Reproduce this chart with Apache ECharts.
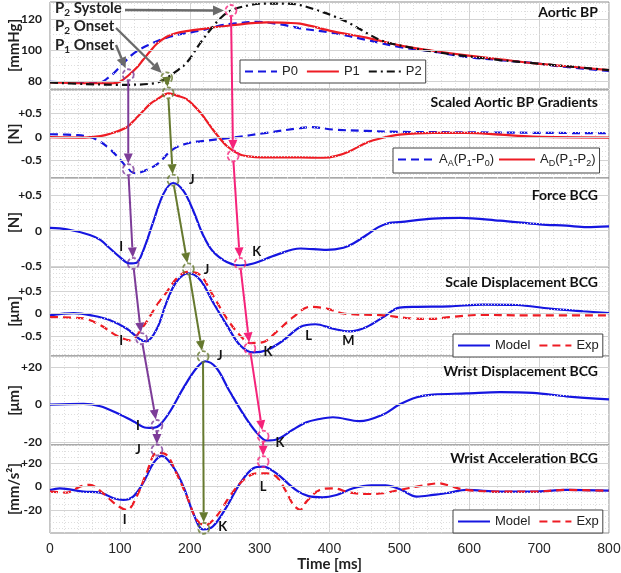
<!DOCTYPE html>
<html>
<head>
<meta charset="utf-8">
<title>Aortic BP and BCG</title>
<script src="https://cdn.jsdelivr.net/npm/echarts@6/dist/echarts.min.js"></script>
<style>
html, body { margin: 0; padding: 0; background: #fff; }
#main { width: 621px; height: 573px; }
</style>
</head>
<body>
<div id="main"></div>
<script>
// ---- data: [time ms, value] ----
var aorticP0 = [[0,79.5],[40,79],[70,79],[86,83],[100,89],[119,97.5],[140,103],[167,108],[190,110.5],[215,112.5],[240,115.5],[262,117],[296,118.2],[330,116.5],[358,114],[405,111],[453,106.5],[500,102],[548,99],[596,95.5],[644,93.5],[691,91.6],[739,89],[800,86.5]];
var aorticP1 = [[0,79],[50,78.5],[90,78.5],[100,79.5],[112,83.5],[125,89],[133,93.5],[143,99],[153,104],[167,108.5],[181,111],[200,112.5],[224,114],[260,116],[310,117.8],[340,117.5],[358,117],[405,112],[453,108],[500,103],[548,99.5],[596,96.5],[644,94],[691,91.5],[739,89.5],[800,87]];
var aorticP2 = [[0,79],[50,78],[100,77.5],[150,78.5],[167,82],[180,86],[196,92],[215,104.5],[233,115],[245,121],[259,125.5],[286,129],[310,130],[340,130],[358,129],[380,126],[405,122],[430,117],[453,111],[475,106],[500,103],[548,99],[596,96],[644,93.5],[691,91.5],[739,89.5],[800,87]];

var gradAA = [[0,0.06],[40,0.04],[57,0.0],[72,-0.1],[86,-0.26],[100,-0.47],[112,-0.68],[122,-0.77],[133,-0.73],[153,-0.58],[176,-0.26],[200,-0.12],[215,-0.09],[262,-0.01],[310,0.09],[358,0.19],[375,0.21],[405,0.16],[453,0.13],[500,0.11],[600,0.1],[700,0.09],[800,0.08]];
var gradAD = [[0,0.0],[50,-0.01],[72,0.02],[86,0.07],[110,0.21],[122,0.38],[133,0.55],[143,0.7],[153,0.8],[170,0.93],[182,0.88],[196,0.8],[215,0.52],[233,0.16],[253,-0.19],[272,-0.37],[290,-0.42],[310,-0.43],[358,-0.43],[391,-0.44],[410,-0.4],[429,-0.3],[453,-0.12],[475,-0.02],[500,0.05],[548,0.09],[596,0.09],[644,0.05],[691,0.01],[800,-0.01]];

var forceBcg = [[0,0.04],[24,0.02],[57,-0.06],[72,-0.13],[86,-0.25],[100,-0.37],[114,-0.46],[124,-0.45],[133,-0.29],[148,0.13],[162,0.51],[176,0.67],[191,0.56],[205,0.28],[219,-0.06],[233,-0.29],[253,-0.44],[272,-0.49],[291,-0.46],[324,-0.34],[358,-0.25],[396,-0.27],[420,-0.24],[434,-0.18],[453,-0.06],[470,0.05],[486,0.11],[500,0.12],[548,0.17],[587,0.18],[644,0.14],[701,0.09],[739,0.07],[768,0.05],[800,0.06]];

var scaleModel = [[0,-0.04],[34,0.01],[62,-0.05],[86,-0.15],[110,-0.34],[129,-0.58],[138,-0.62],[153,-0.34],[167,0.26],[181,0.71],[198,0.9],[215,0.75],[233,0.26],[253,-0.26],[272,-0.71],[291,-0.87],[310,-0.82],[334,-0.6],[358,-0.3],[380,-0.24],[405,-0.34],[429,-0.4],[453,-0.3],[477,-0.08],[500,0.13],[525,0.15],[572,0.16],[620,0.2],[668,0.19],[715,0.11],[763,0.05],[800,0.01]];
var scaleExp = [[0,-0.08],[48,-0.11],[72,-0.26],[95,-0.49],[114,-0.6],[133,-0.3],[153,0.19],[167,0.48],[181,0.78],[196,0.93],[215,0.86],[233,0.41],[253,-0.11],[272,-0.49],[286,-0.66],[305,-0.64],[324,-0.41],[348,-0.08],[372,0.15],[396,0.11],[420,0.0],[477,-0.04],[510,-0.1],[548,-0.12],[572,-0.08],[620,-0.03],[668,-0.04],[800,-0.04]];

var wristDisp = [[0,0],[48,0.4],[72,-0.9],[95,-4.4],[119,-8.9],[138,-12.4],[148,-12.5],[157,-11],[172,-3.6],[191,8.9],[210,19.6],[222,23.1],[238,19.6],[257,7.1],[277,-5.3],[296,-15.1],[310,-19.2],[324,-18.7],[348,-13.3],[367,-9.5],[382,-8],[405,-6.8],[443,-8.9],[477,-5.3],[500,0],[525,3.9],[548,5.3],[596,5.9],[644,6.6],[691,6.2],[739,4.4],[800,2.7]];

var wristAccModel = [[0,-2.8],[14,-1.5],[48,-4.2],[72,-5],[91,-9.8],[105,-11.2],[119,-8.4],[133,2.8],[148,19.7],[160,25.8],[176,16.8],[191,0],[205,-22.4],[219,-36],[233,-33.6],[253,-16.8],[272,2.8],[291,15.5],[305,16.8],[324,11.2],[340,3],[355,-4],[370,-8],[390,-9],[410,-7],[434,-1.4],[460,1],[480,1],[500,-2],[525,-8.4],[548,-7],[572,-5],[596,-2.8],[644,-4.2],[691,-4.2],[739,-2.8],[800,-3.4]];
var wristAccExp = [[0,-4.2],[24,-5],[43,0],[57,1.5],[76,-5.6],[95,-15.4],[110,-19.6],[124,-8.4],[138,11.2],[153,28.5],[167,26.6],[181,11.2],[196,-8.4],[210,-28],[222,-32.5],[238,-25.2],[257,-8.4],[277,5.6],[296,11.2],[310,11.2],[324,8.4],[338,-4.2],[348,-15],[358,-19.5],[367,-12.6],[386,-2.8],[405,-1.4],[429,-5],[453,-6.2],[477,-5.6],[500,-2.8],[525,0],[558,2.8],[572,0.6],[596,-2.8],[644,-4.2],[691,-4.2],[739,-2.8],[800,-3.6]];

// tick labels of each panel
var bpTicks = [80, 100, 120];
var gradTicks = [-0.5, 0, 0.5];
var forceTicks = [-0.5, 0, 0.5];
var scaleTicks = [-0.5, 0, 0.5];
var wristDispTicks = [-20, 0, 20];
var wristAccTicks = [-20, 0, 20];

// circled points [panel, time, value]
var purpleMarks = [[0,112,84],[1,112,-0.69],[2,119,-0.46],[3,131,-0.56],[4,153,-11.2],[5,153,30.8]];
var oliveMarks = [[0,167,82],[1,169,0.94],[2,176,0.71],[3,198,1.0],[4,219,25.6],[5,220,-35]];
var pinkMarks = [[0,259,125.5],[1,262,-0.4],[2,272,-0.46],[3,286,-0.78],[4,305,-16.9],[5,305,21]];

// wave letters [panel, letter, time, value]
var waveLetters = [
  [2,'I',102,-0.22],[2,'J',203,0.71],[2,'K',296,-0.29],
  [3,'J',224,0.97],[3,'I',102,-0.6],[3,'K',312,-0.86],[3,'L',370,-0.49],[3,'M',427,-0.6],
  [4,'J',243,25.8],[4,'I',126,-11.6],[4,'K',329,-20.4],
  [5,'J',126,30.8],[5,'I',107,-28],[5,'K',247,-33.6],[5,'L',305,0]
];

var BLUE = '#1616e0', RED = '#ee1c24', BLACK = '#111';
var PURPLE = '#7d3c98', OLIVE = '#66792f', PINK = '#f5237a', GRAY = '#6b6b6b';
var BOLD = 'Lato';

var panels = [
  {top: 2, height: 87, min: 74.8, max: 131, minor: 5, ticks: bpTicks, unit: '[mmHg]', title: 'Aortic BP', titleTop: 5, plus: false},
  {top: 90, height: 88, min: -0.87, max: 1.0, minor: 0.1, ticks: gradTicks, unit: '[N]', title: 'Scaled Aortic BP Gradients', titleTop: 95, plus: true},
  {top: 178, height: 89, min: -0.51, max: 0.74, minor: 0.1, ticks: forceTicks, unit: '[N]', title: 'Force BCG', titleTop: 188, plus: true},
  {top: 267, height: 89, min: -0.95, max: 1.04, minor: 0.1, ticks: scaleTicks, unit: '[\u03bcm]', title: 'Scale Displacement BCG', titleTop: 275, plus: true},
  {top: 356, height: 89, min: -21.6, max: 25.9, minor: 5, ticks: wristDispTicks, unit: '[\u03bcm]', title: 'Wrist Displacement BCG', titleTop: 364, plus: true},
  {top: 445, height: 88, min: -39, max: 35, minor: 5, ticks: wristAccTicks, unit: '[mm/s\u00b2]', title: 'Wrist Acceleration BCG', titleTop: 451, plus: true}
];

var chains = [
  {marks: purpleMarks, color: PURPLE},
  {marks: oliveMarks, color: OLIVE},
  {marks: pinkMarks, color: PINK}
];

var chart = echarts.init(document.getElementById('main'));

var grids = [], xAxes = [], yAxes = [], titles = [], series = [];

panels.forEach(function (p, i) {
  grids.push({left: 50, right: 12, top: p.top, height: p.height, show: true,
    containLabel: false, outerBoundsMode: 'none',
    borderColor: '#8c8c8c', borderWidth: 1, backgroundColor: '#fff'});

  xAxes.push({
    gridIndex: i, type: 'value', min: 0, max: 800, interval: 100,
    axisLine: {show: false}, axisTick: {show: false},
    axisLabel: {show: i === 5, fontSize: 14, color: '#262626', fontFamily: 'Liberation Sans', margin: 9},
    splitLine: {show: true, lineStyle: {color: '#d3d3d3', width: 1}},
    minorTick: {show: false, splitNumber: 5},
    minorSplitLine: {show: true, lineStyle: {color: '#dedede', type: [1, 2]}},
    name: i === 5 ? 'Time [ms]' : '', nameLocation: 'middle', nameGap: 20,
    nameTextStyle: {fontFamily: BOLD, fontWeight: 'bold', fontSize: 15, color: '#222'}
  });

  yAxes.push({
    gridIndex: i, type: 'value', min: p.min, max: p.max,
    axisLine: {show: false}, axisTick: {show: false}, splitLine: {show: false},
    axisLabel: {
      customValues: p.ticks, margin: 8, fontSize: 12, fontWeight: 'bold', fontFamily: BOLD, color: '#1a1a1a',
      formatter: (function (plus) {
        return function (v) { return (plus && v > 0 ? '+' : '') + v; };
      })(p.plus)
    },
    name: p.unit, nameLocation: 'middle', nameGap: 28, nameMoveOverlap: false,
    nameTextStyle: {fontFamily: BOLD, fontWeight: 'bold', fontSize: 15, color: '#222'}
  });

  titles.push({text: p.title, right: 23, top: p.titleTop, padding: 0,
    textStyle: {fontFamily: BOLD, fontWeight: 'bold', fontSize: 14, color: '#111'}});

  // grid lines: solid at labelled values, dotted in between
  var lines = [];
  var v0 = Math.ceil(p.min / p.minor - 1e-9) * p.minor;
  for (var v = v0; v <= p.max + 1e-9; v += p.minor) {
    var vv = Math.round(v * 1000) / 1000;
    var major = p.ticks.some(function (t) { return Math.abs(t - vv) < 1e-6; });
    lines.push({yAxis: vv, lineStyle: major
      ? {color: '#d3d3d3', type: 'solid', width: 1}
      : {color: '#dedede', type: [1, 2], width: 1}});
  }
  series.push({type: 'line', xAxisIndex: i, yAxisIndex: i, data: [], silent: true, z: 1,
    markLine: {silent: true, symbol: ['none', 'none'], label: {show: false}, data: lines}});
});

function curve(name, i, data, color, type) {
  return {
    name: name, type: 'line', xAxisIndex: i, yAxisIndex: i, data: data,
    showSymbol: false, symbol: 'none', smooth: 0.35, z: 3, color: color,
    lineStyle: {color: color, width: 2.2, type: type || 'solid'}
  };
}

series.push(curve('P0', 0, aorticP0, BLUE, [8, 5]));
series.push(curve('P1', 0, aorticP1, RED));
series.push(curve('P2', 0, aorticP2, BLACK, [8, 4, 2, 4]));
series.push(curve('AA', 1, gradAA, BLUE, [8, 5]));
series.push(curve('AD', 1, gradAD, RED));
series.push(curve('Force', 2, forceBcg, BLUE));
series.push(curve('Model', 3, scaleModel, BLUE));
series.push(curve('Exp', 3, scaleExp, RED, [8, 5]));
series.push(curve('Wrist', 4, wristDisp, BLUE));
series.push(curve('Model', 5, wristAccModel, BLUE));
series.push(curve('Exp', 5, wristAccExp, RED, [8, 5]));

// dashed circles on the marked points
panels.forEach(function (p, i) {
  var pts = [];
  chains.forEach(function (c) {
    c.marks.forEach(function (m) {
      if (m[0] === i) pts.push({value: [m[1], m[2]], itemStyle: {borderColor: c.color}});
    });
  });
  series.push({type: 'scatter', xAxisIndex: i, yAxisIndex: i, data: pts, symbol: 'circle',
    symbolSize: 11, z: 5, silent: true, clip: false,
    itemStyle: {color: 'rgba(0,0,0,0)', borderWidth: 1.8, borderType: [4, 2]}});
});

var legendBase = {
  orient: 'horizontal', itemWidth: 32, itemHeight: 10, itemGap: 8, padding: [5, 4], z: 20,
  borderColor: '#444', borderWidth: 1, backgroundColor: '#fff', selectedMode: false,
  itemStyle: {color: 'rgba(0,0,0,0)', borderColor: 'rgba(0,0,0,0)', borderWidth: 0},
  textStyle: {fontFamily: 'Liberation Sans', fontSize: 13, color: '#222'}
};

var legends = [
  echarts.util.extend({data: ['P0', 'P1', 'P2'], left: 240, top: 60}, legendBase),
  echarts.util.extend({data: ['AA', 'AD'], left: 393, top: 148,
    formatter: function (name) {
      return name === 'AA'
        ? '{n|A}{s|A}{n|(P}{s|1}{n|-P}{s|0}{n|)}'
        : '{n|A}{s|D}{n|(P}{s|1}{n|-P}{s|2}{n|)}';
    }}, legendBase),
  echarts.util.extend({data: ['Model', 'Exp'], left: 453, top: 334}, legendBase),
  echarts.util.extend({data: ['Model', 'Exp'], left: 453, top: 510}, legendBase)
];
legends[1].itemWidth = 36;
legends[1].itemGap = 4;
legends[1].textStyle = {
  fontFamily: 'Liberation Sans', fontSize: 13, color: '#222',
  rich: {
    n: {fontFamily: 'Liberation Sans', fontSize: 13, color: '#222', lineHeight: 17},
    s: {fontFamily: 'Liberation Sans', fontSize: 9, color: '#222', verticalAlign: 'bottom', lineHeight: 11}
  }
};

chart.setOption({
  animation: false,
  grid: grids, xAxis: xAxes, yAxis: yAxes, title: titles, legend: legends, series: series
});

// ---- arrows and labels, placed through the axes ----
function toPx(m) {
  return chart.convertToPixel({gridIndex: m[0]}, [m[1], m[2]]);
}

function arrow(a, b, color, width, head, gapA, gapB) {
  var dx = b[0] - a[0], dy = b[1] - a[1];
  var len = Math.sqrt(dx * dx + dy * dy);
  var ux = dx / len, uy = dy / len;
  var s = [a[0] + ux * gapA, a[1] + uy * gapA];
  var e = [b[0] - ux * gapB, b[1] - uy * gapB];
  var bx = e[0] - ux * head, by = e[1] - uy * head;
  var w = head * 0.45;
  return [
    {type: 'line', silent: true, z: 50, shape: {x1: s[0], y1: s[1], x2: bx, y2: by},
      style: {stroke: color, lineWidth: width}},
    {type: 'polygon', silent: true, z: 50,
      shape: {points: [[e[0], e[1]], [bx - uy * w, by + ux * w], [bx + uy * w, by - ux * w]]},
      style: {fill: color}}
  ];
}

var graphics = [];

chains.forEach(function (c) {
  for (var k = 0; k < c.marks.length - 1; k++) {
    graphics = graphics.concat(arrow(toPx(c.marks[k]), toPx(c.marks[k + 1]), c.color, 2, 10, 6, 6));
  }
});

waveLetters.forEach(function (w) {
  var px = toPx([w[0], w[2], w[3]]);
  graphics.push({type: 'text', x: px[0], y: px[1], z: 60, silent: true,
    style: {text: w[1], font: 'bold 13px Lato', fill: '#111', align: 'center', verticalAlign: 'middle'}});
});

// onset / systole call-outs
var richLabel = {
  a: {fontSize: 15, fontWeight: 'bold', fontFamily: BOLD, fill: '#222', lineHeight: 18},
  b: {fontSize: 10, fontWeight: 'bold', fontFamily: BOLD, fill: '#222', verticalAlign: 'bottom', lineHeight: 12}
};
var callouts = [
  {text: '{a|P}{b|2}{a| Systole}', top: 1, from: [125, 10], mark: pinkMarks[0]},
  {text: '{a|P}{b|2}{a| Onset}', top: 19, from: [116, 28], mark: oliveMarks[0]},
  {text: '{a|P}{b|1}{a| Onset}', top: 38, from: [116, 45], mark: purpleMarks[0]}
];
callouts.forEach(function (c) {
  graphics.push({type: 'text', left: 55, top: c.top, z: 60, silent: true,
    style: {text: c.text, rich: richLabel}});
  graphics = graphics.concat(arrow(c.from, toPx(c.mark), GRAY, 2.4, 11, 0, 7));
});

chart.setOption({graphic: graphics});
</script>
</body>
</html>
